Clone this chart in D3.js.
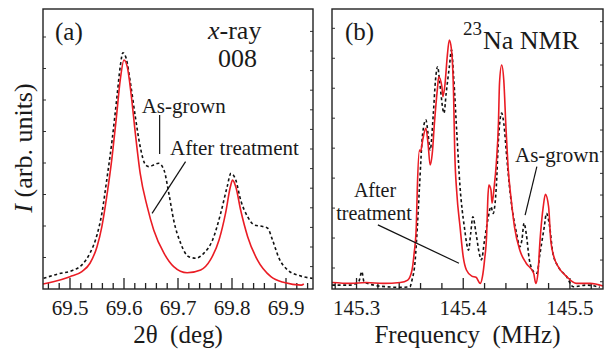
<!DOCTYPE html>
<html>
<head>
<meta charset="utf-8">
<script src="https://cdn.jsdelivr.net/npm/d3@7"></script>
<style>
  html, body { margin: 0; padding: 0; background: #fff; }
  svg { display: block; }
  text { fill: #1a1a1a; white-space: pre; font-family: "Liberation Serif", "Times New Roman", Times, Tinos, "DejaVu Serif", serif; }
</style>
</head>
<body>
<div id="chart"></div>
<script>
// (a) x-ray 008 rocking, 2theta (deg) vs intensity (arb.)
const xrayTreatedX = [69.450, 69.469, 69.500, 69.522, 69.537, 69.550, 69.559, 69.568, 69.578, 69.586,
  69.593, 69.600, 69.606, 69.613, 69.621, 69.630, 69.643, 69.655, 69.674, 69.692,
  69.717, 69.742, 69.760, 69.776, 69.788, 69.797, 69.801, 69.807, 69.816, 69.829,
  69.847, 69.872, 69.897, 69.928, 69.933]
const xrayTreatedY = [1.8, 2.6, 4.4, 6.2, 9.2, 15.1, 22.3, 33.0, 47.3, 61.5,
  74.6, 81.8, 79.4, 69.9, 55.6, 41.3, 29.4, 21.1, 12.8, 8.0,
  5.8, 6.8, 10.4, 17.5, 27.0, 36.5, 38.9, 36.5, 28.2, 18.7,
  10.4, 4.4, 2.3, 1.4, 1.8]
const xrayGrownX = [69.451, 69.478, 69.503, 69.522, 69.537, 69.550, 69.559, 69.568, 69.578, 69.587,
  69.593, 69.598, 69.604, 69.612, 69.621, 69.630, 69.640, 69.646, 69.655, 69.664,
  69.674, 69.683, 69.692, 69.705, 69.720, 69.733, 69.748, 69.764, 69.779, 69.791,
  69.798, 69.807, 69.816, 69.829, 69.841, 69.857, 69.866, 69.875, 69.887, 69.903,
  69.928, 69.949]
const xrayGrownY = [3.8, 5.4, 6.5, 8.6, 12.8, 19.3, 27.0, 38.9, 53.2, 68.7,
  79.4, 84.4, 82.4, 73.5, 61.5, 50.8, 44.3, 43.7, 44.3, 44.9,
  42.5, 34.2, 24.6, 16.3, 11.5, 11.0, 12.8, 17.5, 27.0, 36.5,
  41.3, 38.9, 31.8, 25.8, 22.9, 22.3, 21.7, 17.5, 11.0, 6.8,
  4.6, 3.8]

// (b) 23Na NMR spectrum, frequency (MHz)
const nmrTreatedX = [145.277, 145.294, 145.309, 145.325, 145.341, 145.348, 145.352, 145.354, 145.356, 145.357,
  145.359, 145.360, 145.362, 145.365, 145.367, 145.369, 145.371, 145.373, 145.376, 145.377,
  145.380, 145.381, 145.383, 145.385, 145.387, 145.389, 145.391, 145.392, 145.394, 145.397,
  145.400, 145.403, 145.408, 145.412, 145.416, 145.418, 145.420, 145.422, 145.423, 145.424,
  145.426, 145.427, 145.429, 145.431, 145.433, 145.434, 145.436, 145.438, 145.440, 145.442,
  145.445, 145.448, 145.453, 145.459, 145.466, 145.468, 145.470, 145.472, 145.475, 145.477,
  145.480, 145.482, 145.485, 145.489, 145.497, 145.506, 145.519, 145.531]
const nmrTreatedY = [2.3, 2.0, 2.3, 2.0, 2.3, 3.2, 6.8, 12.8, 22.3, 36.5,
  49.6, 49.0, 53.2, 57.4, 52.0, 44.3, 48.5, 59.2, 72.3, 75.8,
  72.3, 68.7, 73.5, 83.0, 88.9, 85.4, 68.7, 49.6, 34.2, 22.3,
  11.5, 6.8, 4.6, 4.2, 2.0, 4.4, 10.4, 19.9, 31.8, 37.1,
  35.4, 30.6, 36.5, 44.9, 59.2, 73.5, 80.0, 74.6, 58.0, 43.7,
  31.8, 22.3, 13.9, 9.2, 5.6, 2.0, 5.6, 17.5, 29.4, 33.8,
  29.4, 17.5, 11.5, 8.0, 4.4, 2.0, 2.0, 1.1]
const nmrGrownX = [145.277, 145.294, 145.302, 145.305, 145.307, 145.316, 145.328, 145.341, 145.350, 145.352,
  145.355, 145.357, 145.359, 145.362, 145.365, 145.367, 145.369, 145.372, 145.374, 145.376,
  145.378, 145.382, 145.384, 145.387, 145.389, 145.391, 145.394, 145.397, 145.401, 145.405,
  145.407, 145.409, 145.412, 145.415, 145.417, 145.420, 145.423, 145.426, 145.428, 145.431,
  145.433, 145.436, 145.438, 145.441, 145.444, 145.447, 145.450, 145.453, 145.455, 145.457,
  145.459, 145.462, 145.466, 145.469, 145.472, 145.476, 145.478, 145.481, 145.484, 145.489,
  145.497, 145.503, 145.516, 145.528]
const nmrGrownY = [1.4, 1.4, 2.6, 6.2, 2.6, 1.4, 0.8, 0.6, 0.8, 3.2,
  10.4, 22.3, 36.5, 55.6, 60.4, 55.6, 49.6, 62.8, 74.6, 79.4,
  73.5, 62.8, 69.9, 79.4, 85.4, 75.8, 55.6, 36.5, 22.3, 13.9,
  19.9, 25.8, 19.9, 12.8, 10.4, 17.5, 24.6, 29.4, 27.0, 36.5,
  53.2, 62.8, 59.2, 46.1, 34.2, 25.8, 19.9, 15.1, 17.5, 23.5,
  19.9, 10.4, 6.2, 5.6, 12.8, 22.3, 27.0, 22.3, 12.8, 8.0,
  4.4, 0.8, 1.4, 0.6]

const xrayTickLabels = [69.5, 69.6, 69.7, 69.8, 69.9]
const nmrTickLabels = [145.3, 145.4, 145.5]

const W = 604, H = 350
const plotTop = 9, plotBottom = 289
const red = "#ea1c24"
const serif = '"Liberation Serif", "Times New Roman", Times, Tinos, "DejaVu Serif", serif'

const svg = d3.select("#chart").append("svg")
    .attr("width", W)
    .attr("height", H)
    .attr("font-family", serif)

svg.append("rect").attr("width", W).attr("height", H).attr("fill", "#fff")

const y = d3.scaleLinear().domain([0, 100]).range([plotBottom, plotTop])

function label(parent, x, yy, size, str) {
    return parent.append("text")
        .attr("x", x).attr("y", yy)
        .attr("font-family", serif)
        .attr("font-size", size)
        .text(str)
}

function panel(x, opts) {
    const g = svg.append("g")
    const [x0, x1] = x.range()

    // minor / major ticks along bottom, pointing in
    g.selectAll(".xt")
        .data(opts.xTicks)
        .enter().append("line")
            .attr("x1", d => x(d.v)).attr("x2", d => x(d.v))
            .attr("y1", plotBottom).attr("y2", d => plotBottom - (d.major ? 11 : 6))
            .attr("stroke", "#222").attr("stroke-width", 1.3)

    // short ticks on left and right
    g.selectAll(".yl")
        .data(opts.leftTicks)
        .enter().append("line")
            .attr("x1", x0).attr("x2", x0 + 3)
            .attr("y1", d => y(d)).attr("y2", d => y(d))
            .attr("stroke", "#333").attr("stroke-width", 1)
    g.selectAll(".yr")
        .data(opts.rightTicks)
        .enter().append("line")
            .attr("x1", x1).attr("x2", x1 - 3)
            .attr("y1", d => y(d)).attr("y2", d => y(d))
            .attr("stroke", "#333").attr("stroke-width", 1)

    g.selectAll(".xl")
        .data(opts.labels)
        .enter().append("text")
            .attr("x", d => x(d))
            .attr("y", 315)
            .attr("text-anchor", "middle")
            .attr("font-family", serif)
            .attr("font-size", 21)
            .text(d => d.toFixed(1))

    const line = d3.line()
        .x(d => x(d[0]))
        .y(d => y(d[1]))
        .curve(d3.curveMonotoneX)

    g.append("path")
        .attr("d", line(d3.zip(opts.grownX, opts.grownY)))
        .attr("fill", "none")
        .attr("stroke", "#111")
        .attr("stroke-width", 1.6)
        .attr("stroke-dasharray", "3,2.6")

    g.append("path")
        .attr("d", line(d3.zip(opts.treatedX, opts.treatedY)))
        .attr("fill", "none")
        .attr("stroke", red)
        .attr("stroke-width", 1.6)

    g.append("rect")
        .attr("x", x0).attr("y", plotTop)
        .attr("width", x1 - x0).attr("height", plotBottom - plotTop)
        .attr("fill", "none")
        .attr("stroke", "#222")
        .attr("stroke-width", 1.4)

    label(svg, (x0 + x1) / 2, 343, 25, opts.title).attr("text-anchor", "middle")

    // leader lines for the curve labels
    opts.leaders.forEach(l => {
        g.append("line")
            .attr("x1", x(l[0])).attr("y1", y(l[1]))
            .attr("x2", x(l[2])).attr("y2", y(l[3]))
            .attr("stroke", "#111").attr("stroke-width", 1.2)
    })
    return g
}

// (a)
const xA = d3.scaleLinear().domain([69.45, 69.95]).range([43, 313])
const gA = panel(xA, {
    xTicks: d3.range(3473, 3498).map(i => ({ v: i * 0.02, major: i % 5 === 0 })),
    leftTicks: d3.range(1, 9).map(k => k * 11.25),
    rightTicks: d3.range(0, 13).map(k => 8 + k * 7),
    labels: xrayTickLabels,
    grownX: xrayGrownX, grownY: xrayGrownY,
    treatedX: xrayTreatedX, treatedY: xrayTreatedY,
    title: "2θ  (deg)",
    leaders: [[69.666, 62.1, 69.666, 48.2], [69.714, 45.5, 69.652, 27.0]]
})
label(gA, 55, 40, 25, "(a)")
label(gA, 208, 39, 26, "").html('<tspan font-style="italic">x</tspan>-ray')
label(gA, 218, 67, 26, "008")
label(gA, 141.7, 113, 21, "As-grown")
label(gA, 170, 155, 21, "After treatment")

label(svg, 0, 0, 26, "")
    .attr("transform", "translate(32,148) rotate(-90)")
    .attr("text-anchor", "middle")
    .html('<tspan font-style="italic">I</tspan> (arb. units)')

// (b)
const xB = d3.scaleLinear().domain([145.277, 145.531]).range([332, 603])
const gB = panel(xB, {
    xTicks: d3.range(7264, 7277).map(i => ({ v: i * 0.02, major: i % 5 === 0 })),
    leftTicks: d3.range(0, 9).map(k => 7.5 + k * 10.7),
    rightTicks: d3.range(0, 13).map(k => 2.6 + k * 7.74),
    labels: nmrTickLabels,
    grownX: nmrGrownX, grownY: nmrGrownY,
    treatedX: nmrTreatedX, treatedY: nmrTreatedY,
    title: "Frequency  (MHz)",
    leaders: [[145.320, 22.9, 145.396, 9.2], [145.469, 43.7, 145.458, 26.4]]
})
label(gB, 345, 40, 25, "(b)")
label(gB, 463, 35, 19, "23")
label(gB, 483, 49, 26, "Na NMR")
label(gB, 375, 197, 20, "After").attr("text-anchor", "middle")
label(gB, 374, 220, 20, "treatment").attr("text-anchor", "middle")
label(gB, 557, 162, 21, "As-grown").attr("text-anchor", "middle")
</script>
</body>
</html>
